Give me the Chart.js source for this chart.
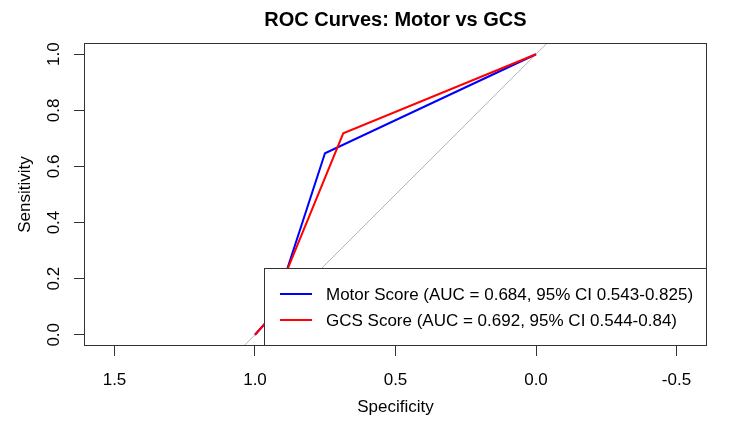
<!DOCTYPE html>
<html>
<head>
<meta charset="utf-8">
<script src="https://cdn.jsdelivr.net/npm/chart.js@4"></script>
<style>
  body { margin: 0; background: #fff; }
</style>
</head>
<body>
<canvas id="rocChart" width="750" height="430"></canvas>
<script>
// ROC points (specificity, sensitivity)
const motorSpec = [0, 0.751, 0.89, 0.96, 1];
const motorSens = [1, 0.647, 0.22, 0.045, 0];
const gcsSpec = [0, 0.686, 0.89, 0.96, 1];
const gcsSens = [1, 0.718, 0.22, 0.045, 0];
// chance line
const diagSpec = [1.2, -0.2];
const diagSens = [-0.2, 1.2];

const seriesLabels = [
    'Motor Score (AUC = 0.684, 95% CI 0.543-0.825)',
    'GCS Score (AUC = 0.692, 95% CI 0.544-0.84)'
];
const xTicks = [1.5, 1.0, 0.5, 0.0, -0.5];
const yTicks = [0.0, 0.2, 0.4, 0.6, 0.8, 1.0];

const FONT = "'Liberation Sans', Arial, sans-serif";

function toPoints(xs, ys) {
    return xs.map((x, i) => ({ x: x, y: ys[i] }));
}

// box round the plot plus the legend in the bottom right corner
const boxAndLegend = {
    id: 'boxAndLegend',
    afterDatasetsDraw(chart) {
        const ctx = chart.ctx;
        const a = chart.chartArea;
        ctx.save();
        ctx.strokeStyle = '#333';
        ctx.lineWidth = 1;
        ctx.strokeRect(a.left + 0.5, a.top + 0.5, a.right - a.left - 1, a.bottom - a.top - 1);

        const w = 443, h = 78;
        const lx = a.right - w, ly = a.bottom - h;
        ctx.fillStyle = '#fff';
        ctx.fillRect(lx, ly, w, h);
        ctx.strokeRect(lx + 0.5, ly + 0.5, w - 1, h - 1);

        const rows = [
            { ds: chart.data.datasets[1], y: ly + 26 },
            { ds: chart.data.datasets[0], y: ly + 52 }
        ];
        ctx.font = '17px ' + FONT;
        ctx.textBaseline = 'middle';
        ctx.textAlign = 'left';
        rows.forEach(r => {
            ctx.strokeStyle = r.ds.borderColor;
            ctx.lineWidth = 2;
            ctx.beginPath();
            ctx.moveTo(lx + 16, r.y);
            ctx.moveTo(lx + 16, r.y);
            ctx.lineTo(lx + 48, r.y);
            ctx.stroke();
            ctx.fillStyle = '#000';
            ctx.fillText(r.ds.label, lx + 62, r.y + 1);
        });
        ctx.restore();
    }
};

new Chart(document.getElementById('rocChart').getContext('2d'), {
    type: 'scatter',
    data: {
        datasets: [{
            label: seriesLabels[1],
            data: toPoints(gcsSpec, gcsSens),
            showLine: true,
            borderColor: '#ff0000',
            borderWidth: 2,
            pointRadius: 0,
            clip: 0
        }, {
            label: seriesLabels[0],
            data: toPoints(motorSpec, motorSens),
            showLine: true,
            borderColor: '#0000ff',
            borderWidth: 2,
            pointRadius: 0,
            clip: 0
        }, {
            label: 'diagonal',
            data: toPoints(diagSpec, diagSens),
            showLine: true,
            borderColor: '#b4b4b4',
            borderWidth: 1,
            pointRadius: 0,
            clip: 0
        }]
    },
    options: {
        responsive: false,
        animation: false,
        devicePixelRatio: 1,
        layout: { padding: { left: 0, right: 43, top: 0, bottom: 0 } },
        plugins: {
            legend: { display: false },
            tooltip: { enabled: false },
            title: {
                display: true,
                text: 'ROC Curves: Motor vs GCS',
                fullSize: false,
                color: '#000',
                font: { family: FONT, size: 20, weight: 'bold' },
                padding: { top: 8, bottom: 11 }
            }
        },
        scales: {
            x: {
                type: 'linear',
                reverse: true,
                min: -0.6085,
                max: 1.6085,
                afterBuildTicks: scale => { scale.ticks = xTicks.map(v => ({ value: v })); },
                afterFit: scale => { scale.height = 84; },
                grid: { drawOnChartArea: false, drawTicks: true, tickLength: 10, color: '#333' },
                border: { display: false },
                ticks: {
                    padding: 14,
                    color: '#000',
                    font: { family: FONT, size: 17 },
                    maxRotation: 0,
                    callback: v => v.toFixed(1)
                },
                title: {
                    display: true,
                    text: 'Specificity',
                    color: '#000',
                    font: { family: FONT, size: 17 },
                    padding: { top: 0, bottom: 12 }
                }
            },
            y: {
                type: 'linear',
                min: -0.04,
                max: 1.04,
                afterBuildTicks: scale => { scale.ticks = yTicks.map(v => ({ value: v })); },
                afterFit: scale => { scale.width = 84; },
                grid: { drawOnChartArea: false, drawTicks: true, tickLength: 10, color: '#333' },
                border: { display: false },
                ticks: {
                    padding: 8,
                    color: '#000',
                    font: { family: FONT, size: 17 },
                    minRotation: 90,
                    maxRotation: 90,
                    crossAlign: 'center',
                    callback: v => v.toFixed(1)
                },
                title: {
                    display: true,
                    text: 'Sensitivity',
                    color: '#000',
                    font: { family: FONT, size: 17 },
                    padding: { top: 15, bottom: 0 }
                }
            }
        }
    },
    plugins: [boxAndLegend]
});
</script>
</body>
</html>
